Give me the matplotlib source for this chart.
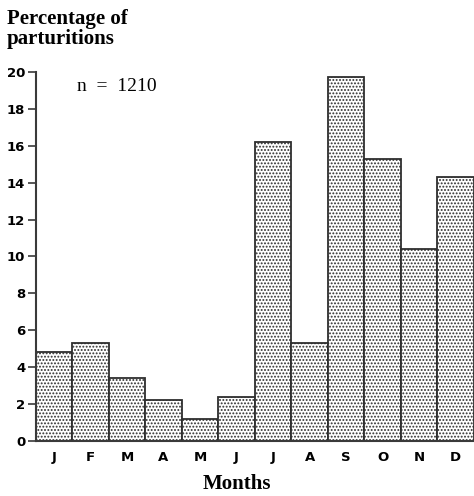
import matplotlib.pyplot as plt

months = ['J', 'F', 'M', 'A', 'M', 'J', 'J', 'A', 'S', 'O', 'N', 'D']
pct = [4.8, 5.3, 3.4, 2.2, 1.2, 2.4, 16.2, 5.3, 19.7, 15.3, 10.4, 14.3]
yticks = [0, 2, 4, 6, 8, 10, 12, 14, 16, 18, 20]

plt.rcParams['hatch.linewidth'] = 0.9
plt.rcParams['font.family'] = 'DejaVu Sans'
plt.rcParams['font.weight'] = 'bold'

fig = plt.figure(figsize=(4.74, 4.96), dpi=100)
ax = fig.add_axes([0.0753, 0.111, 0.9247, 0.744])

x = range(len(months))
ax.bar(x, pct, width=1.0, color='white', edgecolor='#2e2e2e',
       linewidth=1.3, hatch='.....')

ax.set_xlim(-0.5, 11.5)
ax.set_ylim(0, 20)
ax.set_yticks(yticks)
ax.set_xticks(list(x))
ax.set_xticklabels(months)
ax.tick_params(labelsize=9.5)
ax.tick_params(axis='x', length=0, pad=7)
ax.tick_params(axis='y', length=5.5, width=1.2, color='#3a3a3a', pad=2)

for s in ['top', 'right']:
    ax.spines[s].set_visible(False)
for s in ['left', 'bottom']:
    ax.spines[s].set_linewidth(1.5)
    ax.spines[s].set_color('#3a3a3a')

ax.text(1.72, 19.2, 'n  =  1210', family='Liberation Serif', fontweight='normal',
        fontsize=14, ha='center', va='center')

fig.text(0.014, 0.982, 'Percentage of\nparturitions', family='Liberation Serif',
         fontweight='bold', fontsize=15, ha='left', va='top', linespacing=1.0)
fig.text(0.5, 0.014, 'Months', family='Liberation Serif', fontweight='bold',
         fontsize=15, ha='center', va='baseline')

fig.savefig('out.png', dpi=100)
